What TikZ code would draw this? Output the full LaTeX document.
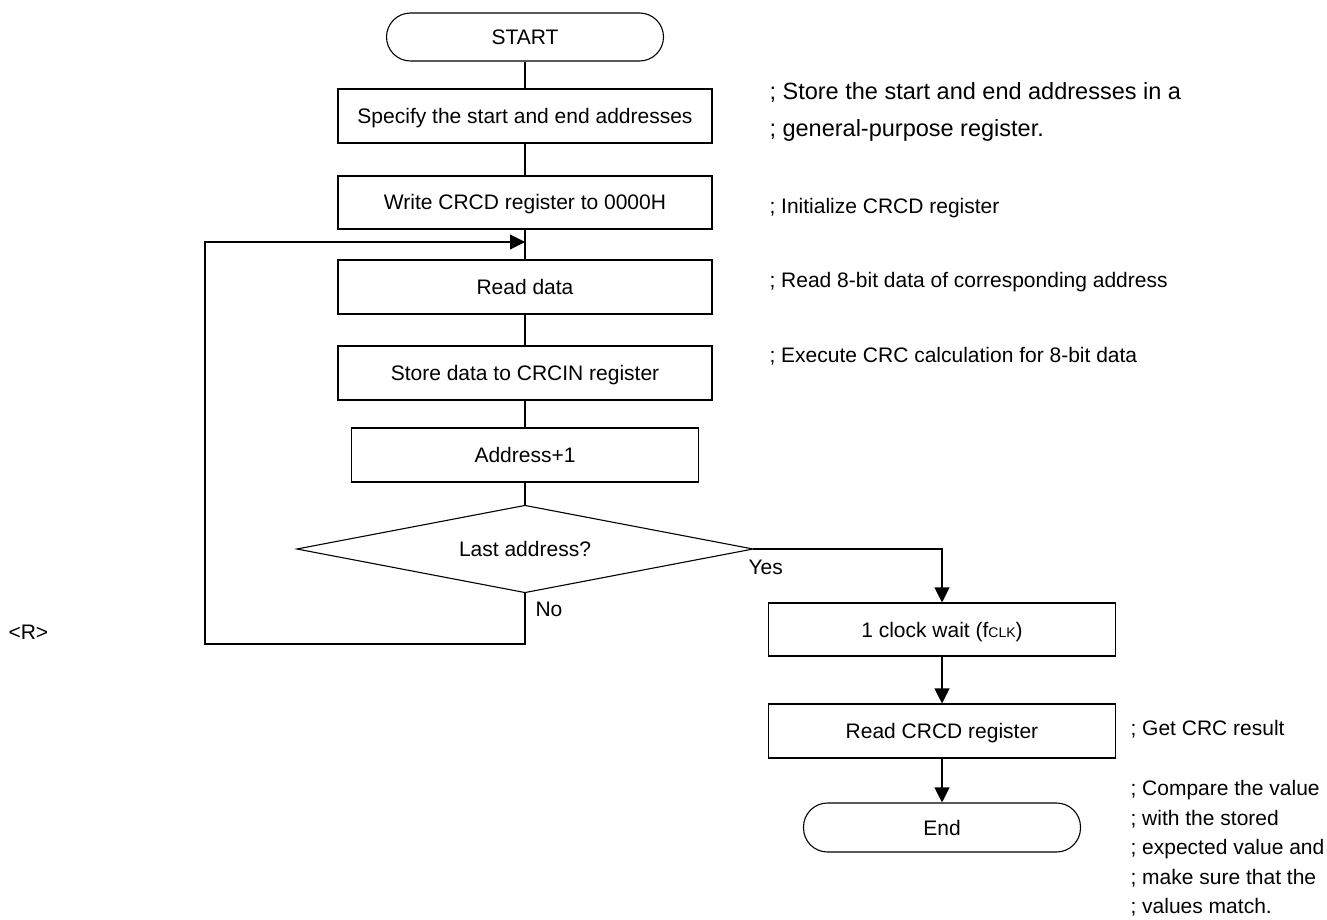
\documentclass[tikz,border=0pt]{standalone}
\usepackage{fontspec}
\setmainfont{Liberation Sans}
\usetikzlibrary{arrows.meta}
\begin{document}
\begin{tikzpicture}[x=1pt,y=-1pt,
 line width=1.1pt,
 every node/.style={font=\fontsize{21}{25}\selectfont, text height=15pt, text depth=0pt, inner sep=0pt},
 proc/.style={draw, rectangle, minimum width=374pt, minimum height=54pt},
 term/.style={draw, rectangle, rounded corners=24pt, minimum width=277pt, minimum height=48pt},
 decbox/.style={rectangle, minimum width=455pt, minimum height=86pt},
 cmt/.style={anchor=base west},
 bigcmt/.style={anchor=base west, font=\fontsize{23.5}{28}\selectfont},
 arr/.style={-{Triangle[length=15pt,width=15pt]}},
]
\useasboundingbox (0,0) rectangle (1327,920);

\node[term] (start) at (525,37) {START};
\node[proc] (b1) at (525,116) {Specify the start and end addresses};
\node[proc, minimum height=53pt] (b2) at (525,202.5) {Write CRCD register to 0000H};
\node[proc] (rd) at (525,287) {Read data};
\node[proc] (st) at (525,373) {Store data to CRCIN register};
\node[proc, minimum width=347pt] (ad) at (525,455) {Address+1};
\node[decbox] (dc) at (525,549) {Last address?};
\draw (dc.north) -- (dc.east) -- (dc.south) -- (dc.west) -- cycle;
\node[proc, minimum width=347pt, minimum height=53pt] (ck) at (942,629.5) {1 clock wait (f{\fontsize{14}{14}\selectfont CLK})};
\node[proc, minimum width=347pt] (rc) at (942,731) {Read CRCD register};
\node[term, minimum height=49pt] (en) at (942,827.5) {End};

\node[cmt] (yes) at (748,574) {Yes};
\node[cmt] (no) at (535,616) {No};
\node[cmt] (rmark) at (8,639) {<R>};

\node[bigcmt] (c1) at (769,100) {; Store the start and end addresses in a};
\node[bigcmt] (c2) at (769,137) {; general-purpose register.};
\node[cmt] (c3) at (769,213) {; Initialize CRCD register};
\node[cmt] (c4) at (769,287) {; Read 8-bit data of corresponding address};
\node[cmt] (c5) at (769,362) {; Execute CRC calculation for 8-bit data};
\node[cmt] (c6) at (1130,735) {; Get CRC result};
\node[cmt] (c7) at (1130,795) {; Compare the value};
\node[cmt] (c8) at (1130,825) {; with the stored};
\node[cmt] (c9) at (1130,854) {; expected value and};
\node[cmt] (c10) at (1130,884) {; make sure that the};
\node[cmt] (c11) at (1130,913) {; values match.};

\draw (start) -- (b1);
\draw (b1) -- (b2);
\draw (b2) -- (rd);
\draw (rd) -- (st);
\draw (st) -- (ad);
\draw (ad) -- (dc.north);
\coordinate (j) at (525,242);
\coordinate (lp) at (205,644);
\draw[arr] (dc.south) |- (lp) |- (j);
\draw[arr] (dc.east) -| (ck.north);
\draw[arr] (ck) -- (rc);
\draw[arr] (rc) -- (en);
\end{tikzpicture}
\end{document}
